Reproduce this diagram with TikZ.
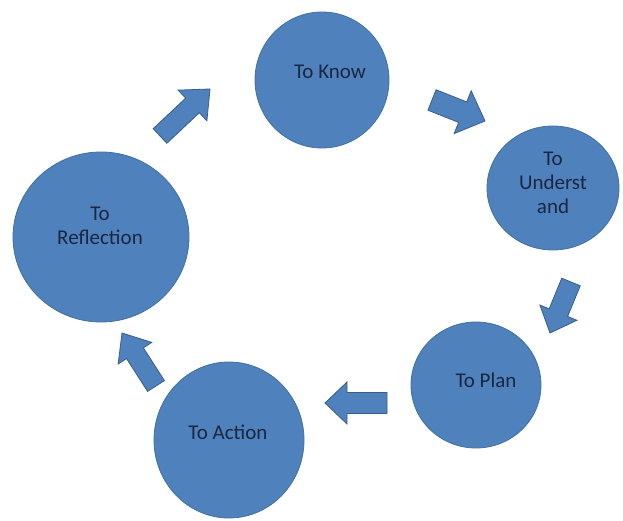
\documentclass[tikz,border=0pt]{standalone}
\usepackage{fontspec}
\setmainfont{Carlito}
\usetikzlibrary{shapes.geometric,calc}
\definecolor{cfill}{HTML}{4F81BD}
\definecolor{cedge}{HTML}{41719C}
\definecolor{aedge}{HTML}{385D8A}
\definecolor{ctext}{HTML}{1A2740}
\tikzset{
  stage/.style={ellipse,fill=cfill,draw=cedge,line width=0.8pt,inner sep=0pt},
  stagetext/.style={text=ctext,font=\fontsize{21}{24}\selectfont,align=center,inner sep=0pt},
  blockfill/.style={fill=cfill,draw=aedge,line width=0.8pt,line join=miter}
}
\newcommand\blockarr[5]{%
  \coordinate (#1-b) at ($(#2)!#5!(#1)$);
  \path[blockfill] ($(#1)!#3!90:(#2)$) -- ($(#1-b)!#3!90:(#2)$) -- ($(#1-b)!#4!90:(#2)$) -- (#2)
    -- ($(#1-b)!#4!-90:(#2)$) -- ($(#1-b)!#3!-90:(#2)$) -- ($(#1)!#3!-90:(#2)$) -- cycle;}
\begin{document}
\begin{tikzpicture}[x=1pt,y=-1pt]
\useasboundingbox[fill=white] (0,0) rectangle (623,521);
% stages
\node[stage,minimum width=134pt,minimum height=136pt] (know) at (322,80) {};
\node[stage,minimum width=132pt,minimum height=124pt] (und) at (553,188) {};
\node[stage,minimum width=130pt,minimum height=126pt] (plan) at (476,385) {};
\node[stage,minimum width=150pt,minimum height=156pt] (act) at (229,440) {};
\node[stage,minimum width=176pt,minimum height=170pt] (refl) at (101,237) {};
% texts
\node[stagetext] (knowt) at (330,72) {To Know};
\node[stagetext] (undt) at (553,183) {To\\Underst\\and};
\node[stagetext] (plant) at (486,380) {To Plan};
\node[stagetext] (actt) at (228,432) {To Action};
\node[stagetext] (reflt) at (100,226) {To\\Reflection};
% arrow end points
\coordinate (a1t) at (160,136); \coordinate (a1h) at (210,89);
\coordinate (a2t) at (432,100); \coordinate (a2h) at (485,121);
\coordinate (a3t) at (571,282); \coordinate (a3h) at (550,333);
\coordinate (a4t) at (387,403); \coordinate (a4h) at (325,403);
\coordinate (a5t) at (156,386); \coordinate (a5h) at (122,333);
\blockarr{a1t}{a1h}{10pt}{21pt}{24pt}
\blockarr{a2t}{a2h}{11pt}{23pt}{24pt}
\blockarr{a3t}{a3h}{10pt}{20pt}{22pt}
\blockarr{a4t}{a4h}{10.5pt}{21pt}{22pt}
\blockarr{a5t}{a5h}{10pt}{20pt}{24pt}
\end{tikzpicture}
\end{document}
